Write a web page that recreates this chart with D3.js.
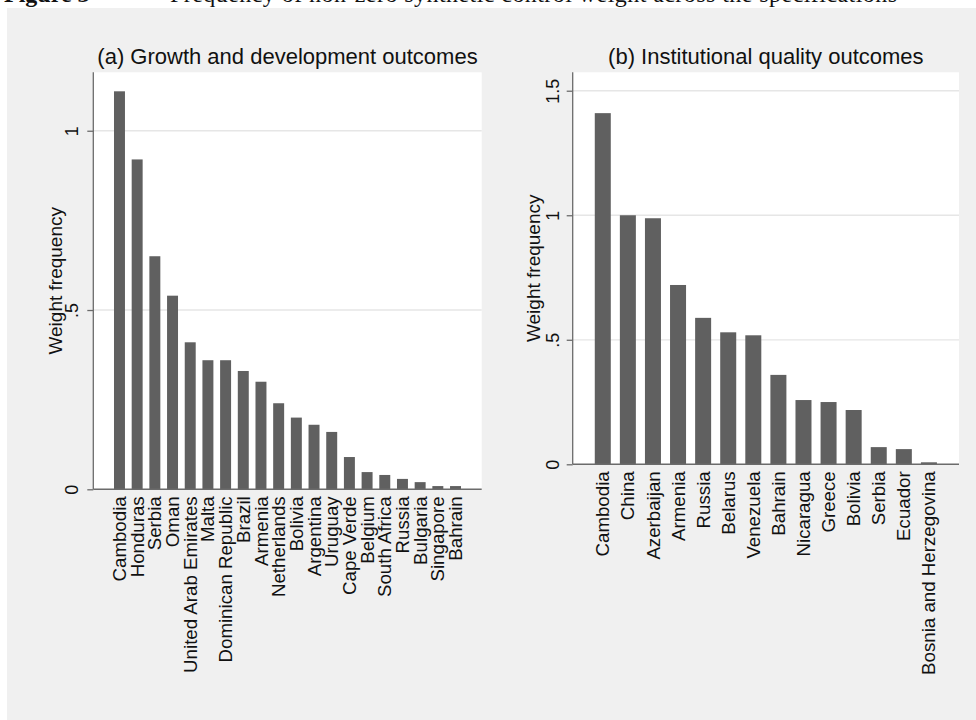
<!DOCTYPE html>
<html>
<head>
<meta charset="utf-8">
<script src="https://cdn.jsdelivr.net/npm/d3@7"></script>
<style>
  body { margin: 0; background: #fff; }
  svg { display: block; }
  text { font-family: "Liberation Sans", Arial, sans-serif; fill: #111; }
</style>
</head>
<body>
<svg id="fig" width="976" height="720"></svg>
<script>
// panel (a) growth and development outcomes
const countriesA = ['Cambodia', 'Honduras', 'Serbia', 'Oman', 'United Arab Emirates', 'Malta',
  'Dominican Republic', 'Brazil', 'Armenia', 'Netherlands', 'Bolivia', 'Argentina', 'Uruguay',
  'Cape Verde', 'Belgium', 'South Africa', 'Russia', 'Bulgaria', 'Singapore', 'Bahrain'];
const weightsA = [1.11, 0.92, 0.65, 0.54, 0.41, 0.36, 0.36, 0.33, 0.30, 0.24, 0.20, 0.18, 0.16,
  0.09, 0.048, 0.04, 0.029, 0.02, 0.009, 0.009];
const ticksA = [0, 0.5, 1];

// panel (b) institutional quality outcomes
const countriesB = ['Cambodia', 'China', 'Azerbaijan', 'Armenia', 'Russia', 'Belarus', 'Venezuela',
  'Bahrain', 'Nicaragua', 'Greece', 'Bolivia', 'Serbia', 'Ecuador', 'Bosnia and Herzegovina'];
const weightsB = [1.41, 1.0, 0.988, 0.72, 0.588, 0.53, 0.518, 0.359, 0.258, 0.25, 0.218, 0.069, 0.061, 0.008];
const ticksB = [0, 0.5, 1, 1.5];

const barColor = '#606060';
const axisColor = '#6b6b6b';
const gridColor = '#e6e6e6';

const svg = d3.select('#fig');

// graph region
svg.append('rect').attr('x', 7).attr('y', 8).attr('width', 969).attr('height', 712).attr('fill', '#f0f0f0');

// caption line (cut off at the top of the page)
const cap = svg.append('text')
    .attr('x', 4).attr('y', 2)
    .style('font-family', '"Liberation Serif", "Times New Roman", serif')
    .style('font-size', '24px');
cap.append('tspan').style('font-weight', 'bold').text('Figure 3');
cap.append('tspan').attr('x', 170).attr('textLength', 727)
    .text('Frequency of non-zero synthetic control weight across the specifications');

function fmt(d) {
    if (d === 0) return '0';
    return String(d).replace(/^0\./, '.');
}

function drawPanel(opt) {
    const g = svg.append('g');
    const x = d3.scaleBand()
        .domain(opt.cats)
        .range([opt.left, opt.right])
        .paddingInner(opt.pin)
        .paddingOuter(opt.pout);
    const y = d3.scaleLinear().domain([0, opt.ymax]).range([opt.base, opt.top]);

    // plot region
    g.append('rect')
        .attr('x', opt.left).attr('y', opt.top)
        .attr('width', opt.right - opt.left).attr('height', opt.base - opt.top)
        .attr('fill', '#fff');

    // grid
    g.selectAll('line.grid')
        .data(opt.ticks.filter(d => d > 0))
        .join('line')
        .attr('class', 'grid')
        .attr('x1', opt.left).attr('x2', opt.right)
        .attr('y1', d => y(d)).attr('y2', d => y(d))
        .attr('stroke', gridColor).attr('stroke-width', 1.3);

    // bars
    g.selectAll('rect.bar')
        .data(opt.vals)
        .join('rect')
        .attr('class', 'bar')
        .attr('x', (d, i) => x(opt.cats[i]))
        .attr('width', x.bandwidth())
        .attr('y', d => y(d))
        .attr('height', d => y(0) - y(d))
        .attr('fill', barColor);

    // y axis
    const yAxis = g.append('g')
        .attr('transform', `translate(${opt.left},0)`)
        .call(d3.axisLeft(y).tickValues(opt.ticks).tickFormat(fmt).tickSize(6).tickSizeOuter(0));
    yAxis.select('.domain').attr('stroke', axisColor).attr('stroke-width', 1.3)
        .attr('d', `M0,${opt.top}V${opt.base}`);
    yAxis.selectAll('.tick line').attr('stroke', axisColor).attr('stroke-width', 1.3);
    yAxis.selectAll('.tick text')
        .attr('x', null).attr('dy', null)
        .attr('transform', `translate(${opt.tickOff},0) rotate(-90)`)
        .attr('text-anchor', 'middle')
        .style('font-size', '18px')
        .style('fill', '#111');

    // x baseline
    g.append('line')
        .attr('x1', opt.left).attr('x2', opt.right)
        .attr('y1', y(0)).attr('y2', y(0))
        .attr('stroke', axisColor).attr('stroke-width', 1.5);

    // category labels
    g.selectAll('text.cat')
        .data(opt.cats)
        .join('text')
        .attr('class', 'cat')
        .attr('transform', d => `translate(${x(d) + x.bandwidth() / 2},${opt.base + 7}) rotate(-90)`)
        .attr('dy', '0.35em')
        .attr('text-anchor', 'end')
        .style('font-size', '18.7px')
        .text(d => d);

    // axis title
    g.append('text')
        .attr('transform', `translate(${opt.left + opt.titleOff},${(opt.top + opt.base) / 2}) rotate(-90)`)
        .attr('text-anchor', 'middle')
        .style('font-size', '19px')
        .text('Weight frequency');

    // panel title
    g.append('text')
        .attr('x', (opt.left + opt.right) / 2).attr('y', 64)
        .attr('text-anchor', 'middle')
        .style('font-size', '22px')
        .text(opt.title);
}

drawPanel({
    cats: countriesA, vals: weightsA, ticks: ticksA, ymax: 1.163,
    left: 93.3, right: 481.7, top: 72.3, base: 489.3,
    pin: 0.38, pout: 1.17, tickOff: -15, titleOff: -31.5,
    title: '(a) Growth and development outcomes'
});

drawPanel({
    cats: countriesB, vals: weightsB, ticks: ticksB, ymax: 1.574,
    left: 572.7, right: 959, top: 72.3, base: 464.3,
    pin: 0.362, pout: 0.88, tickOff: -14, titleOff: -33,
    title: '(b) Institutional quality outcomes'
});
</script>
</body>
</html>
